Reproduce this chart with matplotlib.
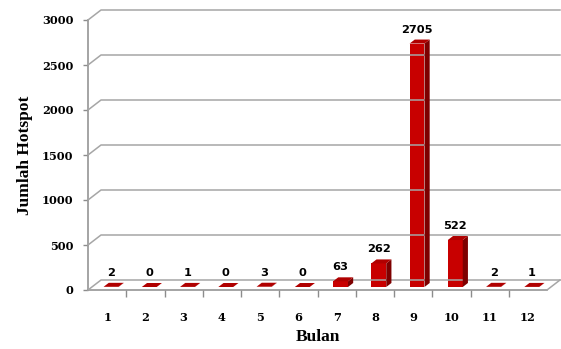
import matplotlib
matplotlib.use("Agg")
import matplotlib.pyplot as plt
from matplotlib.patches import Polygon
from matplotlib.lines import Line2D
from matplotlib.transforms import Affine2D, IdentityTransform

# Monthly hotspot counts
months = ["1", "2", "3", "4", "5", "6", "7", "8", "9", "10", "11", "12"]
hotspots = [2, 0, 1, 0, 3, 0, 63, 262, 2705, 522, 2, 1]
y_ticks = [0, 500, 1000, 1500, 2000, 2500, 3000]

DEPTH_X, DEPTH_Y = 13, 10          # pixel offset of the back wall
BAR_FRONT, BAR_BACK = 0.3, 0.7      # depth fractions of bar faces
BAR_WIDTH = 0.39
GRID = "#a6a6a6"
AXIS = "#8c8c8c"
FRONT = "#c80000"
SIDE = "#7e0000"
TOP = "#b00000"

fig = plt.figure(figsize=(5.61, 3.49), dpi=100)
ax = fig.add_axes([88 / 561, 1 - 290 / 349, (547 - 88) / 561, 270 / 349])
ax.set_xlim(0.5, 12.5)
ax.set_ylim(0, 3000)
ax.patch.set_visible(False)

ident = IdentityTransform()


def at_depth(x, y, t):
    px, py = ax.transData.transform((x, y))
    return (px + DEPTH_X * t, py + DEPTH_Y * t)


# back wall gridlines with their diagonal on the side wall
for v in y_ticks:
    p0 = at_depth(0.5, v, 0)
    p1 = at_depth(0.5, v, 1)
    p2 = at_depth(12.5, v, 1)
    fig.add_artist(Line2D([p0[0], p1[0], p2[0]], [p0[1], p1[1], p2[1]],
                          transform=ident, color=GRID, lw=1.1, zorder=1))
# right edge of the floor
q0 = at_depth(12.5, 0, 0)
q1 = at_depth(12.5, 0, 1)
fig.add_artist(Line2D([q0[0], q1[0]], [q0[1], q1[1]], transform=ident,
                      color=GRID, lw=1.1, zorder=1))

# bars: front faces drawn through the axis scale, shifted into depth
xs = list(range(1, len(months) + 1))
front_shift = ax.transData + Affine2D().translate(DEPTH_X * BAR_FRONT, DEPTH_Y * BAR_FRONT)
ax.bar(xs, hotspots, width=BAR_WIDTH, color=FRONT, edgecolor="none",
       transform=front_shift, zorder=3, clip_on=False)

for x, v in zip(xs, hotspots):
    l, r = x - BAR_WIDTH / 2, x + BAR_WIDTH / 2
    fl_b = at_depth(l, v, BAR_FRONT)
    fr_b = at_depth(r, v, BAR_FRONT)
    fr_0 = at_depth(r, 0, BAR_FRONT)
    bl_b = at_depth(l, v, BAR_BACK)
    br_b = at_depth(r, v, BAR_BACK)
    br_0 = at_depth(r, 0, BAR_BACK)
    if v > 0:
        fig.add_artist(Polygon([fr_0, fr_b, br_b, br_0], closed=True,
                               transform=ident, facecolor=SIDE,
                               edgecolor="none", zorder=3))
    fig.add_artist(Polygon([fl_b, fr_b, br_b, bl_b], closed=True,
                           transform=ident, facecolor=TOP,
                           edgecolor="none", zorder=3))
    ax.annotate(str(v), xy=(x, v), xytext=(4, 17), textcoords="offset pixels",
                ha="center", va="center", fontsize=8.2, fontweight="bold",
                family="DejaVu Sans", color="black", zorder=4)

# axes styling
for side in ("top", "right"):
    ax.spines[side].set_visible(False)
for side in ("left", "bottom"):
    ax.spines[side].set_color(AXIS)
    ax.spines[side].set_linewidth(1.1)

ax.set_yticks(y_ticks)
ax.set_yticklabels([str(v) for v in y_ticks])
ax.tick_params(axis="y", direction="out", length=3.6, width=1, color=AXIS, pad=7)

ax.set_xticks(xs)
ax.set_xticklabels(months)
ax.set_xticks([x + 0.5 for x in xs[:-1]], minor=True)
ax.tick_params(axis="x", which="major", length=0, pad=16)
ax.tick_params(axis="x", which="minor", direction="out", length=5, width=1, color=AXIS)

for lab in ax.get_xticklabels() + ax.get_yticklabels():
    lab.set_fontfamily("DejaVu Serif")
    lab.set_fontweight("bold")
    lab.set_fontsize(8.2)

ax.set_xlabel("Bulan", family="Liberation Serif", fontweight="bold",
              fontsize=12.5, labelpad=4)
ax.set_ylabel("Jumlah Hotspot", family="Liberation Serif", fontweight="bold",
              fontsize=12.5, labelpad=6)

fig.savefig("out.png", dpi=100)
